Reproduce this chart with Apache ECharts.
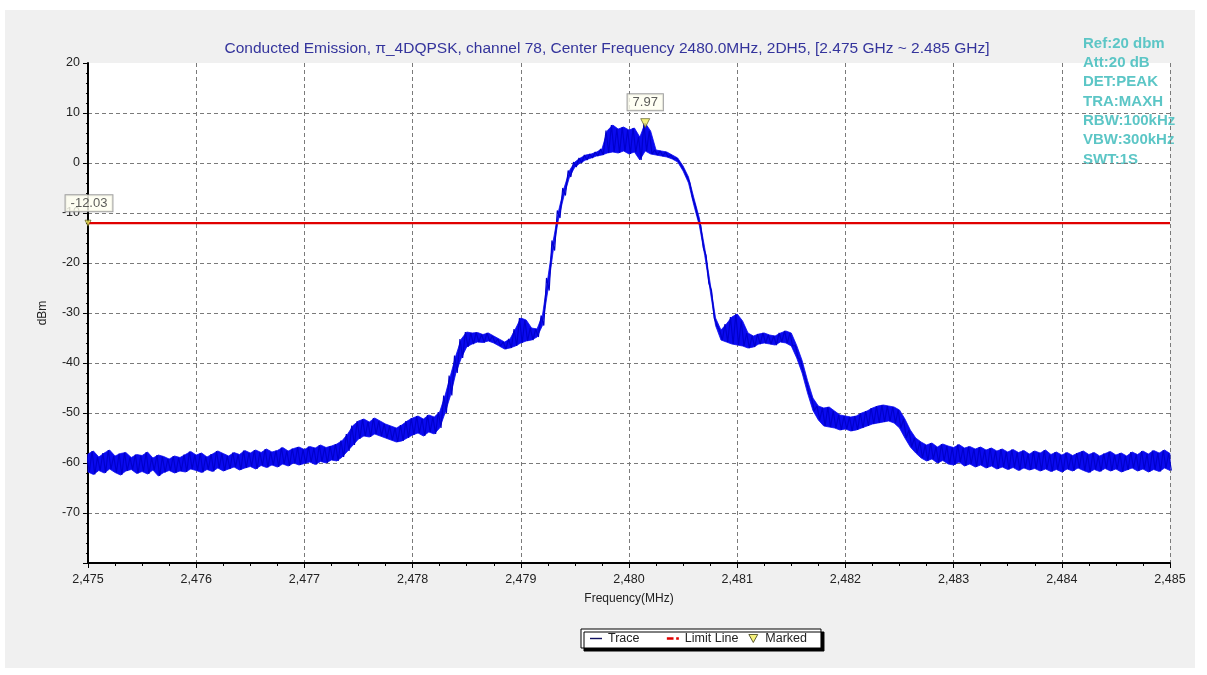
<!DOCTYPE html>
<html><head><meta charset="utf-8">
<script src="https://cdn.jsdelivr.net/npm/echarts@6/dist/echarts.min.js"></script>
<style>
html,body{margin:0;padding:0;background:#fff;width:1207px;height:675px;overflow:hidden;}
#chart{position:absolute;left:5px;top:10px;width:1190px;height:658px;background:#f0f0f0;}
</style></head><body><div id="chart"></div>
<script>
const titleText = 'Conducted Emission, π_4DQPSK, channel 78, Center Frequency 2480.0MHz, 2DH5, [2.475 GHz ~ 2.485 GHz]';
const settingsLines = ['Ref:20 dbm', 'Att:20 dB', 'DET:PEAK', 'TRA:MAXH', 'RBW:100kHz', 'VBW:300kHz', 'SWT:1S'];
const legendNames = ['Trace', 'Limit Line', 'Marked'];
const xName = 'Frequency(MHz)';
const yName = 'dBm';
const startMHz = 2475, stopMHz = 2485, stepMHz = 0.05;
const yMin = -80, yMax = 20, yStep = 10;
const limitDbm = -12.03;
const peakMHz = 2480.15, peakDbm = 7.97;

// upper edge of the max-hold trace, one value per 0.05 MHz (2475.00 .. 2485.00)
const traceHigh = [
  -58.2,-57.6,-58.8,-58.0,-57.4,-58.6,-58.1,-57.9,-58.9,-58.3,
  -58.5,-57.8,-59.0,-58.4,-58.7,-59.2,-58.6,-58.9,-58.3,-57.7,
  -58.4,-58.0,-58.8,-58.2,-57.6,-58.1,-58.6,-57.9,-58.3,-57.5,
  -58.0,-57.4,-57.9,-57.2,-57.8,-57.5,-56.9,-57.6,-57.1,-56.8,
  -57.3,-56.7,-57.0,-56.4,-56.9,-56.6,-56.2,
  -55.5,-54.2,-52.5,-51.6,-51.2,-51.8,-51.0,-51.6,-52.2,-52.6,-53.0,-52.4,-51.6,-51.0,-50.6,-51.2,-50.4,-50.8,-49.8,
  -46.5,-42.5,-38.5,-35.2,
  -33.8,-34.0,-33.9,-34.3,-34.0,-34.6,-35.2,-35.8,-35.2,-33.2,-31.0,-31.4,-33.0,-33.2,
  -30.5,-23.0,-15.5,-9.5,-5.0,-1.5,0.2,
  1.0,1.6,1.8,2.2,2.8,6.5,7.6,6.8,7.2,6.6,7.0,5.2,7.97,6.4,2.6,2.4,2.2,1.6,1.0,
  -0.6,-2.8,-7.0,-11.0,-17.0,-24.0,-31.0,
  -33.4,-32.2,-30.8,-30.2,-31.6,-34.0,-34.6,-34.2,-34.0,-34.4,-34.6,-34.0,-33.6,-34.0,
  -36.5,-39.5,-43.5,-47.0,-48.6,
  -49.0,-48.8,-49.6,-50.4,-50.6,-50.8,-50.6,-50.0,-49.6,-49.0,-48.6,-48.4,-48.6,-48.8,-49.4,-51.2,-53.4,-55.0,
  -55.8,-56.4,-56.0,-56.8,-56.2,-56.6,
  -56.9,-56.3,-57.0,-56.7,-57.2,-56.8,-57.4,-57.0,-57.6,-57.2,
  -57.8,-57.3,-57.9,-57.5,-58.2,-57.6,-58.0,-57.4,-58.3,-57.8,
  -58.4,-57.9,-58.5,-58.0,-57.6,-58.3,-57.9,-58.6,-58.1,-57.7,
  -58.4,-58.0,-58.6,-57.8,-58.3,-57.6,-58.2,-57.5,-58.0,-57.4,
  -58.1
];
// lower edge of the trace band, same frequency grid
const traceLow = [
  -61.8,-62.3,-61.5,-62.0,-61.2,-61.9,-62.4,-61.6,-61.3,-62.1,
  -61.7,-62.2,-61.4,-62.6,-61.9,-61.5,-62.0,-61.6,-61.8,-61.2,
  -61.5,-61.9,-61.3,-61.7,-61.0,-61.6,-61.2,-60.8,-61.4,-61.0,
  -60.7,-61.2,-60.5,-60.9,-60.4,-60.8,-60.2,-60.6,-60.0,-60.4,
  -60.1,-59.8,-60.3,-59.7,-60.0,-59.4,-59.6,
  -58.8,-57.6,-56.4,-55.2,-54.6,-54.8,-54.2,-54.6,-55.0,-55.4,-55.8,-55.6,-55.0,-54.4,-54.0,-54.6,-53.8,-54.2,-53.0,
  -50.0,-46.5,-42.0,-39.0,
  -36.8,-36.2,-35.8,-35.9,-35.6,-36.0,-36.6,-37.2,-37.0,-36.6,-36.0,-35.6,-35.4,-34.8,
  -32.5,-25.5,-17.5,-11.0,-6.5,-2.8,-0.8,
  0.0,0.6,1.0,1.4,1.6,2.0,2.2,2.0,2.4,1.8,2.2,0.6,2.4,1.8,1.6,1.4,1.2,0.8,0.2,
  -1.6,-4.0,-8.5,-12.5,-18.5,-25.5,-32.5,
  -35.4,-35.8,-36.2,-36.4,-36.6,-37.0,-36.8,-36.2,-36.0,-36.2,-36.4,-35.8,-36.0,-36.6,
  -39.0,-42.0,-46.0,-49.5,-51.4,
  -52.6,-52.8,-53.0,-53.4,-53.2,-53.6,-53.4,-53.0,-52.6,-52.2,-52.0,-51.8,-51.6,-52.0,-53.0,-55.0,-56.8,-58.0,
  -59.0,-59.6,-59.2,-60.0,-59.5,-60.2,
  -60.4,-59.8,-60.6,-60.2,-60.8,-60.4,-61.0,-60.6,-61.2,-60.8,
  -61.3,-60.9,-61.5,-61.0,-61.4,-61.1,-61.6,-61.2,-61.7,-61.3,
  -61.8,-61.2,-61.6,-61.0,-61.5,-61.9,-61.3,-61.7,-61.1,-61.6,
  -61.2,-61.8,-61.4,-61.0,-61.6,-61.2,-61.8,-61.3,-61.7,-61.0,
  -61.5
];

// build the max-hold trace as a zig-zag between upper and lower readings
const traceData = [];
traceHigh.forEach((h, i) => {
  const f = startMHz + i * stepMHz;
  traceData.push([f - stepMHz / 4, h]);
  traceData.push([f + stepMHz / 4, traceLow[i]]);
});

const FONT = '"Liberation Sans", Arial, sans-serif';
const chart = echarts.init(document.getElementById('chart'), null, {renderer: 'canvas'});
const gridColors = [];
for (let v = yMin; v <= yMax; v += yStep) gridColors.push(v === yMax ? 'rgba(0,0,0,0)' : '#7a7a7a');

chart.setOption({
  animation: false,
  backgroundColor: '#f0f0f0',
  textStyle: {fontFamily: FONT},
  title: {
    text: titleText, left: 597, top: 26, textAlign: 'center',
    textStyle: {fontFamily: FONT, fontSize: 15.5, fontWeight: 'normal', color: '#34349c'}
  },
  graphic: [{
    type: 'text', left: 1078, top: 24,
    style: {text: settingsLines.join('\n'), font: 'bold 15px ' + FONT, fill: '#5cc6c6', lineHeight: 19.3}
  }],
  legend: {
    data: [
      {name: legendNames[0], icon: 'path://M0,0L12,0L12,1.4L0,1.4Z', itemStyle: {color: '#101060'}},
      {name: legendNames[1], icon: 'path://M0,0L5,0L5,2L0,2ZM7,0L9,0L9,2L7,2Z', itemStyle: {color: '#e00000'}},
      {name: legendNames[2], icon: 'path://M0,0L10,0L5,9Z', itemStyle: {color: '#f2ee5a', borderColor: '#3a3a10', borderWidth: 1}}
    ],
    formatter: name => (name === legendNames[0] ? name + '\u00a0\u00a0\u00a0\u00a0\u00a0' : name),
    left: 576, top: 619, orient: 'horizontal',
    padding: [3, 14, 3, 9], itemGap: 10, itemWidth: 12, itemHeight: 8,
    backgroundColor: '#fff', borderColor: '#000', borderWidth: 1,
    shadowColor: '#000', shadowOffsetX: 3, shadowOffsetY: 3, shadowBlur: 0,
    selectedMode: false,
    textStyle: {fontFamily: FONT, fontSize: 12.5, color: '#222', padding: [0, 0, 0, 1]}
  },
  grid: {left: 83, top: 53, width: 1082, height: 500, show: true, backgroundColor: '#fff', borderWidth: 0, containLabel: false},
  xAxis: {
    type: 'value', min: startMHz, max: stopMHz, interval: 1,
    name: xName, nameLocation: 'middle', nameGap: 30,
    nameTextStyle: {fontFamily: FONT, fontSize: 12, color: '#222'},
    axisLine: {onZero: false, lineStyle: {color: '#000', width: 2}},
    axisTick: {show: true, length: 5, lineStyle: {color: '#000'}},
    minorTick: {show: true, splitNumber: 4, length: 3, lineStyle: {color: '#000'}},
    splitLine: {show: true, lineStyle: {color: '#7a7a7a', type: [4, 3], width: 1}},
    axisLabel: {
      margin: 10, fontFamily: FONT, fontSize: 12.5, color: '#222',
      formatter: v => { const s = String(Math.round(v)); return s.slice(0, s.length - 3) + ',' + s.slice(-3); }
    }
  },
  yAxis: {
    type: 'value', min: yMin, max: yMax, interval: yStep,
    name: yName, nameLocation: 'middle', nameGap: 39,
    nameTextStyle: {fontFamily: FONT, fontSize: 12, color: '#222'},
    axisLine: {show: true, lineStyle: {color: '#000', width: 2}},
    axisTick: {show: true, length: 5, lineStyle: {color: '#000'}},
    minorTick: {show: true, splitNumber: 5, length: 2, lineStyle: {color: '#000'}},
    splitLine: {show: true, lineStyle: {color: gridColors, type: [4, 3], width: 1}},
    axisLabel: {
      margin: 8, fontFamily: FONT, fontSize: 12.5, color: '#222',
      formatter: v => (v === yMin ? '' : String(v))
    }
  },
  series: [
    {
      name: 'TraceBand', type: 'custom', coordinateSystem: 'cartesian2d', silent: true, z: 1,
      data: [[startMHz, traceHigh[0]]],
      renderItem: (params, api) => {
        const pts = [];
        traceHigh.forEach((h, i) => pts.push(api.coord([startMHz + i * stepMHz, h])));
        for (let i = traceLow.length - 1; i >= 0; i--) pts.push(api.coord([startMHz + i * stepMHz, traceLow[i]]));
        return {type: 'polygon', shape: {points: pts}, style: {fill: '#0a0af0', stroke: '#0a0af0', lineWidth: 0.8}};
      }
    },
    {
      name: legendNames[0], type: 'line', data: traceData, showSymbol: false, symbol: 'none',
      sampling: null, clip: true, z: 2,
      lineStyle: {color: '#0000cc', width: 1.2}, itemStyle: {color: '#0000cc'}
    },
    {
      name: legendNames[1], type: 'line', data: [[startMHz, limitDbm], [stopMHz, limitDbm]],
      showSymbol: false, symbol: 'none', z: 3,
      lineStyle: {color: '#e00000', width: 2.2}, itemStyle: {color: '#e00000'}
    },
    {
      name: legendNames[2], type: 'scatter', clip: false, z: 5,
      symbol: 'triangle', symbolRotate: 180,
      itemStyle: {color: '#f2ee5a', borderColor: '#4a4a10', borderWidth: 0.8},
      label: {
        show: true, position: 'inside', fontFamily: FONT, fontSize: 13, color: '#333',
        backgroundColor: '#fffff0', borderColor: '#8a8a8a', borderWidth: 1, padding: [2, 5, 1, 5],
        formatter: p => p.value[1].toFixed(2)
      },
      data: [
        {value: [peakMHz, peakDbm], symbolSize: 9, label: {offset: [0, -21]}},
        {value: [startMHz, limitDbm], symbolSize: 6, label: {offset: [1, -20]}}
      ]
    }
  ]
});
</script></body></html>
